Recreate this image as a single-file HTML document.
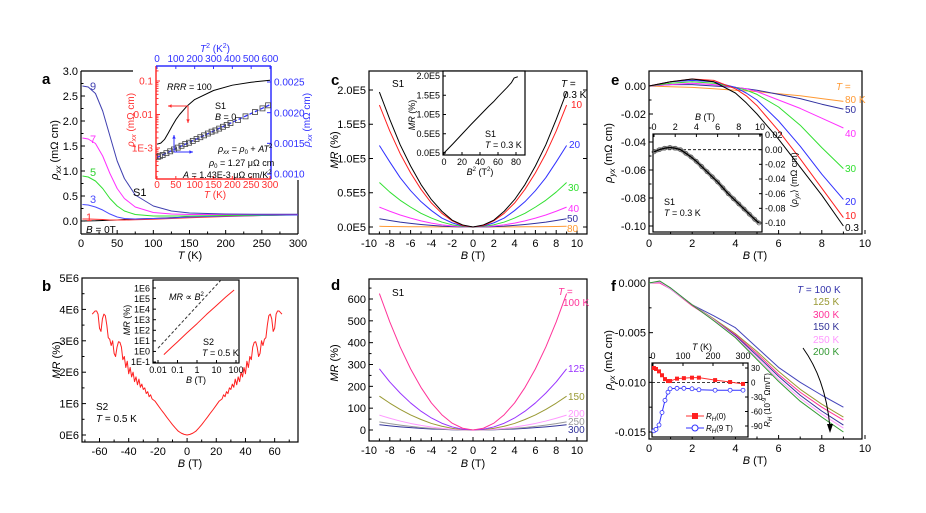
<!DOCTYPE html>
<html><head><meta charset="utf-8"><style>
html,body{margin:0;padding:0;background:#fff;}
svg{display:block;font-family:"Liberation Sans",Arial,sans-serif;}
text{font-family:"Liberation Sans",Arial,sans-serif;}
</style></head><body>
<svg id="fig" width="926" height="513" viewBox="0 0 926 513" xmlns="http://www.w3.org/2000/svg">
<rect x="0" y="0" width="926" height="513" fill="#fff"/>
<g id="layer"></g>
<g id="labels" font-size="11">
<text x="42" y="84" font-size="15" font-weight="bold">a</text>
<text x="42" y="291" font-size="15" font-weight="bold">b</text>
<text x="331" y="85" font-size="15" font-weight="bold">c</text>
<text x="331" y="290" font-size="15" font-weight="bold">d</text>
<text x="611" y="85" font-size="15" font-weight="bold">e</text>
<text x="611" y="291" font-size="15" font-weight="bold">f</text>
<text x="190" y="259" text-anchor="middle"><tspan font-style="italic">T</tspan> (K)</text>
<text transform="rotate(-90 58 150)" x="58" y="150" text-anchor="middle"><tspan font-style="italic">ρ</tspan><tspan font-style="italic" font-size="8" dy="3">xx</tspan><tspan dy="-3"> (mΩ cm)</tspan></text>
<text x="90" y="90" fill="#4040b0">9</text>
<text x="90" y="143" fill="#ff30ff">7</text>
<text x="90" y="176" fill="#30d030">5</text>
<text x="90" y="203" fill="#4a4aff">3</text>
<text x="86" y="221" fill="#ff3030">1</text>
<text x="86" y="233" font-size="10"><tspan font-style="italic">B</tspan> = 0T</text>
<text x="133" y="196">S1</text>
<text x="215" y="198" text-anchor="middle" fill="#ff3030" font-size="10"><tspan font-style="italic">T</tspan> (K)</text>
<text x="215" y="52" text-anchor="middle" fill="#3030ff" font-size="10"><tspan font-style="italic">T</tspan><tspan font-size="7" dy="-4">2</tspan><tspan dy="4"> (K</tspan><tspan font-size="7" dy="-4">2</tspan><tspan dy="4">)</tspan></text>
<text transform="rotate(-90 134 120)" x="134" y="120" text-anchor="middle" fill="#ff3030" font-size="10"><tspan font-style="italic">ρ</tspan><tspan font-style="italic" font-size="7" dy="2">xx</tspan><tspan dy="-2"> (mΩ cm)</tspan></text>
<text transform="rotate(-90 310 120)" x="310" y="120" text-anchor="middle" fill="#3030ff" font-size="10"><tspan font-style="italic">ρ</tspan><tspan font-style="italic" font-size="7" dy="2">xx</tspan><tspan dy="-2"> (mΩ cm)</tspan></text>
<text x="167" y="90" font-size="9"><tspan font-style="italic">RRR</tspan> = 100</text>
<text x="215" y="109" font-size="9">S1</text>
<text x="215" y="120" font-size="9"><tspan font-style="italic">B</tspan> = 0</text>
<text x="218" y="152" font-size="9"><tspan font-style="italic">ρ</tspan><tspan font-size="6" dy="2" font-style="italic">xx</tspan><tspan dy="-2"> = </tspan><tspan font-style="italic">ρ</tspan><tspan font-size="6" dy="2">0</tspan><tspan dy="-2"> + </tspan><tspan font-style="italic">AT</tspan><tspan font-size="6" dy="-4">2</tspan></text>
<text x="209" y="166" font-size="9"><tspan font-style="italic">ρ</tspan><tspan font-size="6" dy="2">0</tspan><tspan dy="-2"> = 1.27 μΩ cm</tspan></text>
<text x="183" y="178" font-size="9"><tspan font-style="italic">A</tspan> = 1.43E-3 μΩ cm/K<tspan font-size="6" dy="-4">2</tspan></text>
<text x="190" y="467" text-anchor="middle"><tspan font-style="italic">B</tspan> (T)</text>
<text transform="rotate(-90 60 360)" x="60" y="360" text-anchor="middle"><tspan font-style="italic">MR</tspan> (%)</text>
<text x="96" y="410" font-size="10">S2</text>
<text x="96" y="422" font-size="10"><tspan font-style="italic">T</tspan> = 0.5 K</text>
<text x="196" y="383" text-anchor="middle" font-size="9"><tspan font-style="italic">B</tspan> (T)</text>
<text transform="rotate(-90 130 320)" x="130" y="320" text-anchor="middle" font-size="9"><tspan font-style="italic">MR</tspan> (%)</text>
<text x="169" y="300" font-size="9"><tspan font-style="italic">MR</tspan> ∝ <tspan font-style="italic">B</tspan><tspan font-size="6" dy="-4">2</tspan></text>
<text x="203" y="345" font-size="9">S2</text>
<text x="202" y="356" font-size="9"><tspan font-style="italic">T</tspan> = 0.5 K</text>
<text x="473" y="259" text-anchor="middle"><tspan font-style="italic">B</tspan> (T)</text>
<text transform="rotate(-90 338 150)" x="338" y="150" text-anchor="middle"><tspan font-style="italic">MR</tspan> (%)</text>
<text x="392" y="87" font-size="10">S1</text>
<text x="561" y="87" font-size="10"><tspan font-style="italic">T</tspan> =</text>
<text x="563" y="98" font-size="10">0.3 K</text>
<text x="571" y="108" font-size="10" fill="#ff2020">10</text>
<text x="569" y="148" font-size="10" fill="#3030ff">20</text>
<text x="568" y="191" font-size="10" fill="#30e030">30</text>
<text x="568" y="212" font-size="10" fill="#ff30ff">40</text>
<text x="567" y="222" font-size="10" fill="#3030a0">50</text>
<text x="567" y="232" font-size="10" fill="#ff9933">80</text>
<text x="480" y="175" text-anchor="middle" font-size="9"><tspan font-style="italic">B</tspan><tspan font-size="6" dy="-4">2</tspan><tspan dy="4"> (T</tspan><tspan font-size="6" dy="-4">2</tspan><tspan dy="4">)</tspan></text>
<text transform="rotate(-90 415 115)" x="415" y="115" text-anchor="middle" font-size="9"><tspan font-style="italic">MR</tspan> (%)</text>
<text x="485" y="137" font-size="9">S1</text>
<text x="485" y="148" font-size="9"><tspan font-style="italic">T</tspan> = 0.3 K</text>
<text x="473" y="467" text-anchor="middle"><tspan font-style="italic">B</tspan> (T)</text>
<text transform="rotate(-90 338 363)" x="338" y="363" text-anchor="middle"><tspan font-style="italic">MR</tspan> (%)</text>
<text x="392" y="296" font-size="10">S1</text>
<text x="558" y="295" font-size="10" fill="#ff3399"><tspan font-style="italic">T</tspan> =</text>
<text x="563" y="306" font-size="10" fill="#ff3399">100 K</text>
<text x="568" y="372" font-size="10" fill="#9933ff">125</text>
<text x="568" y="400" font-size="10" fill="#999933">150</text>
<text x="568" y="417" font-size="10" fill="#ff99ff">200</text>
<text x="568" y="425" font-size="10" fill="#999999">250</text>
<text x="568" y="433" font-size="10" fill="#333399">300</text>
<text x="755" y="259" text-anchor="middle"><tspan font-style="italic">B</tspan> (T)</text>
<text transform="rotate(-90 612 153)" x="612" y="153" text-anchor="middle"><tspan font-style="italic">ρ</tspan><tspan font-style="italic" font-size="8" dy="3">yx</tspan><tspan dy="-3"> (mΩ cm)</tspan></text>
<text x="836" y="90" font-size="10" fill="#ff9933"><tspan font-style="italic">T</tspan> =</text>
<text x="845" y="103" font-size="10" fill="#ff9933">80 K</text>
<text x="845" y="113" font-size="10" fill="#3030a0">50</text>
<text x="845" y="137" font-size="10" fill="#ff30ff">40</text>
<text x="845" y="172" font-size="10" fill="#30e030">30</text>
<text x="845" y="205" font-size="10" fill="#3030ff">20</text>
<text x="845" y="219" font-size="10" fill="#ff2020">10</text>
<text x="845" y="231" font-size="10">0.3</text>
<text x="705" y="120" text-anchor="middle" font-size="9"><tspan font-style="italic">B</tspan> (T)</text>
<text transform="rotate(-90 797 180)" x="797" y="180" text-anchor="middle" font-size="9">⟨<tspan font-style="italic">ρ</tspan><tspan font-style="italic" font-size="6" dy="2">yx</tspan><tspan dy="-2">⟩ (mΩ cm)</tspan></text>
<text x="664" y="205" font-size="9">S1</text>
<text x="664" y="216" font-size="9"><tspan font-style="italic">T</tspan> = 0.3 K</text>
<text x="755" y="464" text-anchor="middle"><tspan font-style="italic">B</tspan> (T)</text>
<text transform="rotate(-90 612 360)" x="612" y="360" text-anchor="middle"><tspan font-style="italic">ρ</tspan><tspan font-style="italic" font-size="8" dy="3">yx</tspan><tspan dy="-3"> (mΩ cm)</tspan></text>
<text x="797" y="293" font-size="10" fill="#3333aa"><tspan font-style="italic">T</tspan> = 100 K</text>
<text x="813" y="305" font-size="10" fill="#999933">125 K</text>
<text x="813" y="318" font-size="10" fill="#ff3399">300 K</text>
<text x="813" y="330" font-size="10" fill="#333399">150 K</text>
<text x="813" y="343" font-size="10" fill="#ff99ff">250 K</text>
<text x="813" y="355" font-size="10" fill="#339933">200 K</text>
<text x="702" y="350" text-anchor="middle" font-size="9"><tspan font-style="italic">T</tspan> (K)</text>
<text transform="rotate(-90 770 400)" x="770" y="400" text-anchor="middle" font-size="8"><tspan font-style="italic">R</tspan><tspan font-style="italic" font-size="6" dy="2">H</tspan><tspan dy="-2"> (10</tspan><tspan font-size="6" dy="-4">-9</tspan><tspan dy="4"> Ωm/T)</tspan></text>
<text x="706" y="419" font-size="8"><tspan font-style="italic">R</tspan><tspan font-style="italic" font-size="6" dy="2">H</tspan><tspan dy="-2">(0)</tspan></text>
<text x="706" y="431" font-size="8"><tspan font-style="italic">R</tspan><tspan font-style="italic" font-size="6" dy="2">H</tspan><tspan dy="-2">(9 T)</tspan></text>
</g>
</svg>
<script>
const aT = [2,10,20,30,40,50,60,75,100,125,150,200,250,300];
const aB9 = [2.70,2.68,2.55,2.2,1.7,1.2,0.85,0.52,0.3,0.2,0.16,0.14,0.135,0.135];
const aB7 = [1.66,1.64,1.55,1.3,0.95,0.65,0.45,0.28,0.17,0.14,0.13,0.13,0.13,0.13];
const aB5 = [0.9,0.88,0.8,0.65,0.45,0.3,0.2,0.13,0.1,0.1,0.1,0.11,0.12,0.13];
const aB3 = [0.33,0.32,0.28,0.22,0.14,0.08,0.05,0.04,0.05,0.06,0.08,0.1,0.11,0.12];
const aB1 = [0.04,0.04,0.035,0.03,0.02,0.02,0.02,0.025,0.035,0.05,0.065,0.09,0.11,0.125];
const aB0 = [0.001,0.002,0.004,0.01,0.015,0.02,0.03,0.04,0.05,0.065,0.08,0.1,0.115,0.125];
const aTicksX = [0,50,100,150,200,250,300];
const aTicksY = [0,0.5,1,1.5,2,2.5,3];
const aTickLabelsY = ['0.0','0.5','1.0','1.5','2.0','2.5','3.0'];
const aiT = [0,10,20,30,40,50,60,80,100,150,200,250,300];
const aiRho = [1.3e-3,1.4e-3,1.8e-3,2.8e-3,4.5e-3,7e-3,1e-2,1.8e-2,2.8e-2,5.2e-2,7.5e-2,9.2e-2,1.05e-1];
const aiT2 = [5,15,30,50,70,90,110,130,150,170,190,210,230,250,270,290,310,330,350,370,390,430,470,520,560,590];
const aiRhoSq = [0.00128,0.00129,0.00131,0.00134,0.00137,0.0014,0.00143,0.00146,0.00149,0.00151,0.00154,0.00157,0.0016,0.00163,0.00166,0.00169,0.00171,0.00174,0.00177,0.0018,0.00183,0.00188,0.00194,0.00201,0.00207,0.00212];
const aiFitT2 = [0,600];
const aiFitRho = [0.00127,0.00213];
const aiTicksT = [0,50,100,150,200,250,300];
const aiTicksT2 = [0,100,200,300,400,500,600];
const aiTicksLog = [0.1,0.01,0.001];
const aiTickLabelsLog = ['0.1','0.01','1E-3'];
const aiTicksR = [0.001,0.0015,0.002,0.0025];
const aiTickLabelsR = ['0.0010','0.0015','0.0020','0.0025'];
const bB = [0,2,4,6,8,10,12,14,16,18,20,22,24,25,26,27,28,29,30,31,32,33,34,35,36,37,38,39,40,41,42,43,44,45,46,47,48,49,50,51,52,53,54,55,56,57,58,59,60,61,62,63,64,65];
const bMR = [0,0.02,0.06,0.12,0.22,0.33,0.45,0.57,0.7,0.82,0.95,1.08,1.15,1.28,1.22,1.38,1.32,1.5,1.45,1.62,1.52,1.78,1.6,1.85,1.7,2.0,1.85,2.15,1.95,2.35,2.15,2.5,2.4,2.8,2.95,2.97,2.8,2.5,2.6,3.0,2.85,3.05,3.1,3.5,3.8,3.85,3.7,3.3,3.4,3.85,3.95,3.95,3.9,3.85];
const bTicksX = [-60,-40,-20,0,20,40,60];
const bTicksY = [0,1,2,3,4,5];
const bTickLabelsY = ['0E6','1E6','2E6','3E6','4E6','5E6'];
const biB = [0.02,0.05,0.1,0.3,1,3,10,30,80];
const biMR = [0.5,2.5,8,55,420,3000,22000,140000,650000];
const biDashB = [0.01,60];
const biDashMR = [2,7e7];
const biTicksX = [0.01,0.1,1,10,100];
const biTickLabelsX = ['0.01','0.1','1','10','100'];
const biTicksY = [0.1,1,10,100,1e3,1e4,1e5,1e6];
const biTickLabelsY = ['1E-1','1E0','1E1','1E2','1E3','1E4','1E5','1E6'];
const cB = [0,1,2,3,4,5,6,7,8,9];
const cT03 = [0,0.03,0.10,0.23,0.40,0.62,0.89,1.2,1.57,1.97];
const cT10 = [0,0.02,0.09,0.2,0.35,0.55,0.79,1.07,1.4,1.78];
const cT20 = [0,0.015,0.06,0.13,0.24,0.37,0.53,0.72,0.95,1.19];
const cT30 = [0,0.008,0.032,0.072,0.13,0.2,0.29,0.39,0.51,0.65];
const cT40 = [0,0.004,0.014,0.032,0.057,0.09,0.13,0.175,0.23,0.29];
const cT50 = [0,0.0015,0.006,0.013,0.024,0.037,0.053,0.072,0.095,0.12];
const cT80 = [0,0,0.001,0.001,0.002,0.003,0.004,0.006,0.008,0.01];
const cTicksX = [-10,-8,-6,-4,-2,0,2,4,6,8,10];
const cTicksY = [0,0.5,1,1.5,2];
const cTickLabelsY = ['0.0E5','0.5E5','1.0E5','1.5E5','2.0E5'];
const ciB2 = [0,10,20,30,40,50,55,60,65,70,75,78,82];
const ciMR = [0,0.24,0.49,0.74,0.98,1.22,1.33,1.46,1.58,1.7,1.83,1.95,1.98];
const ciTicksX = [0,20,40,60,80];
const ciTicksY = [0,0.5,1,1.5,2];
const ciTickLabelsY = ['0.0E5','0.5E5','1.0E5','1.5E5','2.0E5'];
const dB = [0,1,2,3,4,5,6,7,8,9];
const dT100 = [0,8,31,70,124,195,280,380,495,625];
const dT125 = [0,3.5,14,31,55,86,124,169,220,280];
const dT150 = [0,2,7.7,17,30,48,69,94,123,155];
const dT200 = [0,0.9,3.4,7.6,13.5,21,30,41,54,68];
const dT250 = [0,0.5,1.8,4.1,7.3,11.4,16.4,22.3,29,37];
const dT300 = [0,0.3,1.2,2.7,4.7,7.4,10.7,14.5,19,24];
const dTicksY = [0,100,200,300,400,500,600];
const eB = [0,1,2,3,4,4.5,5,6,7,8,9];
const eT03 = [0,0.003,0.005,0.003,-0.005,-0.012,-0.02,-0.038,-0.058,-0.078,-0.1];
const eT10 = [0,0.003,0.005,0.004,-0.002,-0.007,-0.014,-0.032,-0.052,-0.073,-0.094];
const eT20 = [0,0.003,0.004,0.003,-0.001,-0.005,-0.01,-0.025,-0.043,-0.063,-0.081];
const eT30 = [0,0.002,0.003,0.002,-0.001,-0.003,-0.006,-0.015,-0.028,-0.044,-0.059];
const eT40 = [0,0.001,0.002,0.001,-0.001,-0.002,-0.004,-0.01,-0.016,-0.023,-0.03];
const eT50 = [0,0.001,0.001,0,-0.001,-0.002,-0.003,-0.006,-0.009,-0.013,-0.0165];
const eT80 = [0,-0.0005,-0.001,-0.002,-0.003,-0.0035,-0.004,-0.0055,-0.007,-0.009,-0.011];
const eTicksX = [0,2,4,6,8,10];
const eTicksY = [0,-0.02,-0.04,-0.06,-0.08,-0.1];
const eTickLabelsY = ['0.00','-0.02','-0.04','-0.06','-0.08','-0.10'];
const eiB = [0,0.5,1,1.5,2,2.5,3,3.5,4,4.5,5,5.5,6,6.5,7,7.5,8,8.5,9,9.5,9.9];
const eiRho = [-0.003,0.0,0.002,0.003,0.002,0.0,-0.005,-0.01,-0.016,-0.023,-0.03,-0.037,-0.044,-0.052,-0.06,-0.067,-0.074,-0.081,-0.088,-0.095,-0.1];
const eiTicksX = [0,2,4,6,8,10];
const eiTicksY = [0.02,0,-0.02,-0.04,-0.06,-0.08,-0.1];
const eiTickLabelsY = ['0.02','0.00','-0.02','-0.04','-0.06','-0.08','-0.10'];
const fB = [0,0.5,1,2,3,4,5,6,7,8,9];
const fT100 = [0,0.0001,-0.0005,-0.0022,-0.0033,-0.0045,-0.0065,-0.0085,-0.0100,-0.0113,-0.0125];
const fT125 = [0,0.0001,-0.0006,-0.0022,-0.0036,-0.0051,-0.0069,-0.0089,-0.0107,-0.0122,-0.0135];
const fT300 = [0,0,-0.0006,-0.0023,-0.0037,-0.0052,-0.0071,-0.0092,-0.011,-0.0125,-0.0138];
const fT150 = [0,0.0001,-0.0006,-0.0022,-0.0037,-0.0053,-0.0073,-0.0094,-0.0113,-0.0129,-0.0143];
const fT250 = [0,0.0001,-0.0006,-0.0022,-0.0037,-0.0054,-0.0075,-0.0097,-0.0116,-0.0132,-0.0146];
const fT200 = [0,0.0002,-0.0005,-0.0022,-0.0038,-0.0055,-0.0077,-0.0099,-0.0119,-0.0135,-0.015];
const fTicksX = [0,2,4,6,8,10];
const fTicksY = [0,-0.005,-0.01,-0.015];
const fTickLabelsY = ['0.000','-0.005','-0.010','-0.015'];
const fiT = [3,10,20,30,40,50,57,80,103,130,153,207,257,300];
const fiRH0 = [30,28,23,15,7,3,3,8,9,10,10,5,1,-3];
const fiRH9 = [-100,-97,-88,-62,-37,-20,-13,-12,-12,-13,-15,-16,-16,-16];
const fiTicksX = [0,100,200,300];
const fiTicksY = [30,0,-30,-60,-90];

const NS = 'http://www.w3.org/2000/svg';
const layer = document.getElementById('layer');
function mk(tag, attrs, name, parent){
  const el = document.createElementNS(NS, tag);
  for (const k in attrs) el.setAttribute(k, attrs[k]);
  
  
  (parent || layer).appendChild(el);
  return el;
}
function lin(d0,d1,r0,r1){ return v => r0 + (v-d0)*(r1-r0)/(d1-d0); }
function ln(x1,y1,x2,y2,c,w,name,dash){
  const a = {x1,y1,x2,y2,stroke:c||'#000','stroke-width':w||1};
  if (dash) a['stroke-dasharray'] = dash;
  return mk('line', a, name);
}
function tx(x,y,s,name,o){
  o = o || {};
  const t = mk('text', {x,y,'font-size':o.fs||11,fill:o.c||'#000','text-anchor':o.a||'middle'}, name);
  t.textContent = s;
  return t;
}
function curve(xs, ys, sx, sy, color, name, w, dash, clip){
  const d = xs.map((x,i)=>(i?'L':'M')+sx(x).toFixed(2)+','+sy(ys[i]).toFixed(2)).join(' ');
  const a = {d, fill:'none', stroke:color, 'stroke-width':w||1, 'stroke-linejoin':'round'};
  if (dash) a['stroke-dasharray'] = dash;
  if (clip) a['clip-path'] = 'url(#'+clip+')';
  return mk('path', a, name);
}
function mirror(xs, ys){
  const X=[], Y=[];
  for (let i=xs.length-1;i>0;i--){ X.push(-xs[i]); Y.push(ys[i]); }
  for (let i=0;i<xs.length;i++){ X.push(xs[i]); Y.push(ys[i]); }
  return [X,Y];
}
function xTicks(sc, vals, labels, y0, dir, name, o){
  o = o || {};
  vals.forEach((v,i)=>{
    const x = sc(v);
    ln(x, y0, x, y0 + dir*(o.len||4), o.c||'#000', 1, name+'-tick');
    tx(x, y0 + (dir<0 ? (o.off||13) : -(o.off||4)), labels ? labels[i] : String(v), name+'-label', {fs:o.fs||11, c:o.c||'#000'});
  });
}
function yTicks(sc, vals, labels, x0, dir, name, o){
  o = o || {};
  vals.forEach((v,i)=>{
    const y = sc(v);
    ln(x0, y, x0 + dir*(o.len||4), y, o.c||'#000', 1, name+'-tick');
    tx(x0 - dir*3, y + (o.fs||11)*0.36, labels ? labels[i] : String(v), name+'-label', {fs:o.fs||11, c:o.c||'#000', a: dir>0 ? 'end' : 'start'});
  });
}
function minorX(sc, vals, y0, dir, name, c){ vals.forEach(v=>{ const x=sc(v); ln(x,y0,x,y0+dir*2.5,c||'#000',1,name); }); }
function minorY(sc, vals, x0, dir, name, c){ vals.forEach(v=>{ const y=sc(v); ln(x0,y,x0+dir*2.5,y,c||'#000',1,name); }); }
function box(x0,y0,x1,y1,name,fill){
  return mk('rect',{x:x0,y:y0,width:x1-x0,height:y1-y0,fill:fill||'none',stroke:'#000','stroke-width':1.2},name);
}
function clipRect(id,x0,y0,x1,y1){
  let defs = document.getElementById('defs');
  if (!defs){ defs = mk('defs',{id:'defs'},'defs', document.getElementById('fig')); }
  const cp = mk('clipPath',{id},'clip-'+id,defs);
  mk('rect',{x:x0,y:y0,width:x1-x0,height:y1-y0},'clip-rect',cp);
}
function arrow(x1,y1,x2,y2,c,name){
  ln(x1,y1,x2,y2,c,1,name);
  const ang=Math.atan2(y2-y1,x2-x1), s=4;
  const p1=[x2-s*Math.cos(ang-0.45), y2-s*Math.sin(ang-0.45)], p2=[x2-s*Math.cos(ang+0.45), y2-s*Math.sin(ang+0.45)];
  mk('polygon',{points:`${x2},${y2} ${p1} ${p2}`,fill:c},name+'-head');
}

{
  const sx=lin(0,300,81,298), sy=lin(0,3,221,71);
  clipRect('ca',81,71,298,234);
  ln(81,71,81,234,'#000',1.2,'a-axis-left');
  ln(81,234,298,234,'#000',1.2,'a-axis-bottom');
  ln(298,180,298,234,'#000',1.2,'a-axis-right');
  ln(81,71,133,71,'#000',1.2,'a-axis-top');
  xTicks(sx,aTicksX,null,234,-1,'a-x');
  minorX(sx,[25,75,125,175,225,275],234,-1,'a-x-minor');
  yTicks(sy,aTicksY,aTickLabelsY,81,1,'a-y');
  minorY(sy,[0.25,0.75,1.25,1.75,2.25,2.75],81,1,'a-y-minor');
  curve(aT,aB0,sx,sy,'#000','a-curve-b0',1,null,'ca');
  curve(aT,aB1,sx,sy,'#ff3030','a-curve-b1',1,null,'ca');
  curve(aT,aB3,sx,sy,'#4a4aff','a-curve-b3',1,null,'ca');
  curve(aT,aB5,sx,sy,'#30e030','a-curve-b5',1,null,'ca');
  curve(aT,aB7,sx,sy,'#ff30ff','a-curve-b7',1,null,'ca');
  curve(aT,aB9,sx,sy,'#4040b0','a-curve-b9',1,null,'ca');
  mk('rect',{x:156,y:66,width:115,height:113,fill:'#fff'},'a-inset-bg');
  const ix=lin(0,300,157,270), ix2=lin(0,600,157,270), iyl=v=>148-(Math.log10(v)+3)*33.5, iyr=lin(0.001,0.0025,174,82);
  clipRect('cai',156,66,271,179);
  ln(156,66,156,179,'#ff3030',1.5,'a-inset-axis-left');
  ln(156,179,271,179,'#ff3030',1.5,'a-inset-axis-bottom');
  ln(156,66,271,66,'#3030ff',1.5,'a-inset-axis-top');
  ln(271,66,271,179,'#3030ff',1.5,'a-inset-axis-right');
  xTicks(ix,aiTicksT,null,179,-1,'a-inset-x',{fs:10,c:'#ff3030',off:9,len:3});
  xTicks(ix2,aiTicksT2,null,66,1,'a-inset-top',{fs:10,c:'#3030ff',off:4,len:3});
  yTicks(iyl,aiTicksLog,aiTickLabelsLog,156,1,'a-inset-left',{fs:10,c:'#ff3030',len:4});
  const logMinor=[0.0002,0.0003,0.0004,0.0005,0.0006,0.0007,0.0008,0.0009,0.002,0.003,0.004,0.005,0.006,0.007,0.008,0.009,0.02,0.03,0.04,0.05,0.06,0.07,0.08,0.09,0.2];
  minorY(iyl,logMinor.filter(v=>iyl(v)>66&&iyl(v)<179),156,1,'a-inset-left-minor','#ff3030');
  yTicks(iyr,aiTicksR,aiTickLabelsR,271,-1,'a-inset-right',{fs:10,c:'#3030ff',len:4});
  curve(aiT,aiRho,ix,iyl,'#000','a-inset-rho-curve',1,null,'cai');
  curve(aiFitT2,aiFitRho,ix2,iyr,'#3030ff','a-inset-fit-line',1.3,'4,2','cai');
  aiT2.forEach((t,i)=>{ mk('rect',{x:ix2(t)-2.5,y:iyr(aiRhoSq[i])-2.5,width:5,height:5,fill:'none',stroke:'#444','stroke-width':0.8,'clip-path':'url(#cai)'},'a-inset-square-point'); });
  arrow(188,106,168,106,'#ff3030','a-inset-red-arrow-left');
  arrow(188,106,188,123,'#ff3030','a-inset-red-arrow-down');
  arrow(174,152,174,135,'#3030ff','a-inset-blue-arrow-up');
  arrow(174,152,193,152,'#3030ff','a-inset-blue-arrow-right');
}
{
  const sx=lin(-72,76,82,298), sy=lin(0,5,435,278);
  box(82,278,298,442,'b-frame');
  xTicks(sx,bTicksX,null,442,-1,'b-x');
  minorX(sx,[-70,-50,-30,-10,10,30,50,70],442,-1,'b-x-minor');
  yTicks(sy,bTicksY,bTickLabelsY,82,1,'b-y');
  minorY(sy,[0.5,1.5,2.5,3.5,4.5],82,1,'b-y-minor');
  const [X,Y]=mirror(bB,bMR);
  curve(X,Y,sx,sy,'#ff2020','b-mr-curve',1);
  mk('rect',{x:153,y:280,width:86,height:83,fill:'#fff'},'b-inset-bg');
  clipRect('cbi',153,280,239,363);
  const ix=v=>158+(Math.log10(v)+2)*19.5, iy=v=>362-(Math.log10(v)+1)*10.57;
  box(153,280,239,363,'b-inset-frame');
  xTicks(ix,biTicksX,biTickLabelsX,363,-1,'b-inset-x',{fs:9,off:10,len:3});
  yTicks(iy,biTicksY,biTickLabelsY,153,1,'b-inset-y',{fs:9,len:3});
  curve(biDashB,biDashMR,ix,iy,'#333','b-inset-b2-guide',1,'3,2','cbi');
  curve(biB,biMR,ix,iy,'#ff2020','b-inset-mr-curve',1,null,'cbi');
}
{
  const sx=lin(-10,10,369,577), sy=lin(0,2,227,90);
  clipRect('cc',369,71,587,234);
  box(369,71,587,234,'c-frame');
  xTicks(sx,cTicksX,null,234,-1,'c-x');
  minorX(sx,[-9,-7,-5,-3,-1,1,3,5,7,9],234,-1,'c-x-minor');
  yTicks(sy,cTicksY,cTickLabelsY,369,1,'c-y');
  yTicks(sy,cTicksY,cTicksY.map(()=>''),587,-1,'c-y-right');
  const series=[[cT80,'#ff9933','80'],[cT50,'#3030a0','50'],[cT40,'#ff30ff','40'],[cT30,'#30e030','30'],[cT20,'#3030ff','20'],[cT10,'#ff2020','10'],[cT03,'#000','0.3']];
  series.forEach(s=>{ const [X,Y]=mirror(cB,s[0]); curve(X,Y,sx,sy,s[1],'c-curve-'+s[2],1,null,'cc'); });
  mk('rect',{x:443,y:71,width:82,height:84,fill:'#fff'},'c-inset-bg');
  const ix=lin(0,80,444,516), iy=lin(0,2,153,76);
  box(443,71,525,155,'c-inset-frame');
  xTicks(ix,ciTicksX,null,155,-1,'c-inset-x',{fs:9,off:10,len:3});
  yTicks(iy,ciTicksY,ciTickLabelsY,443,1,'c-inset-y',{fs:9,len:3});
  curve(ciB2,ciMR,ix,iy,'#000','c-inset-curve',1);
}
{
  const sx=lin(-10,10,369,577), sy=lin(0,600,430,299);
  clipRect('cd',369,279,587,441);
  box(369,279,587,441,'d-frame');
  xTicks(sx,cTicksX,null,441,-1,'d-x');
  minorX(sx,[-9,-7,-5,-3,-1,1,3,5,7,9],441,-1,'d-x-minor');
  yTicks(sy,dTicksY,null,369,1,'d-y');
  minorY(sy,[50,150,250,350,450,550,650],369,1,'d-y-minor');
  const series=[[dT300,'#333399','300'],[dT250,'#999999','250'],[dT200,'#ff99ff','200'],[dT150,'#999933','150'],[dT125,'#9933ff','125'],[dT100,'#ff3399','100']];
  series.forEach(s=>{ const [X,Y]=mirror(dB,s[0]); curve(X,Y,sx,sy,s[1],'d-curve-'+s[2],1,null,'cd'); });
}
{
  const sx=lin(0,10,649,865), sy=lin(-0.1,0,226,86);
  clipRect('ce',649,71,862,234);
  box(649,71,862,234,'e-frame');
  xTicks(sx,eTicksX,null,234,-1,'e-x');
  minorX(sx,[1,3,5,7,9],234,-1,'e-x-minor');
  yTicks(sy,eTicksY,eTickLabelsY,649,1,'e-y');
  minorY(sy,[-0.01,-0.03,-0.05,-0.07,-0.09],649,1,'e-y-minor');
  const series=[[eT80,'#ff9933','80'],[eT50,'#3030a0','50'],[eT40,'#ff30ff','40'],[eT30,'#30e030','30'],[eT20,'#3030ff','20'],[eT10,'#ff2020','10'],[eT03,'#000','0.3']];
  series.forEach(s=>curve(eB,s[0],sx,sy,s[1],'e-curve-'+s[2],1,null,'ce'));
  mk('rect',{x:653,y:134,width:109,height:98,fill:'#fff'},'e-inset-bg');
  const ix=lin(0,10,654,760), iy=lin(-0.1,0.02,223,135);
  box(653,134,762,232,'e-inset-frame');
  xTicks(ix,eiTicksX,null,134,1,'e-inset-x',{fs:9,off:4,len:3});
  yTicks(iy,eiTicksY,eiTickLabelsY,762,-1,'e-inset-y',{fs:9,len:3});
  ln(653,iy(0),762,iy(0),'#000',0.8,'e-inset-zero-line','3,2');
  curve(eiB,eiRho,ix,iy,'#999','e-inset-circle-band',4);
  eiB.forEach((b,i)=>mk('circle',{cx:ix(b),cy:iy(eiRho[i]),r:2,fill:'none',stroke:'#555','stroke-width':0.7},'e-inset-data-circle'));
  curve(eiB,eiRho,ix,iy,'#000','e-inset-fit-curve',1.3);
}
{
  const sx=lin(0,10,649,865), sy=lin(-0.015,0,432,283);
  clipRect('cf',649,278,862,439);
  box(649,278,862,439,'f-frame');
  xTicks(sx,fTicksX,null,439,-1,'f-x');
  minorX(sx,[1,3,5,7,9],439,-1,'f-x-minor');
  yTicks(sy,fTicksY,fTickLabelsY,649,1,'f-y');
  minorY(sy,[-0.0025,-0.0075,-0.0125],649,1,'f-y-minor');
  const series=[[fT100,'#4444bb','100'],[fT125,'#999933','125'],[fT300,'#ff3399','300'],[fT150,'#333399','150'],[fT250,'#ff99ff','250'],[fT200,'#339933','200']];
  series.forEach(s=>curve(fB,s[0],sx,sy,s[1],'f-curve-'+s[2],1,null,'cf'));
  mk('path',{d:'M803,348 Q826,380 830,428',fill:'none',stroke:'#000','stroke-width':1},'f-trend-arrow');
  mk('polygon',{points:'830,433 827,424 833,424',fill:'#000'},'f-trend-arrow-head');
  mk('rect',{x:652,y:363,width:96,height:74,fill:'#fff'},'f-inset-bg');
  const ix=lin(0,300,653,743), iy=lin(-90,30,426,368);
  box(652,363,748,437,'f-inset-frame');
  xTicks(ix,fiTicksX,null,363,1,'f-inset-x',{fs:9,off:4,len:3});
  yTicks(iy,fiTicksY,null,748,-1,'f-inset-y',{fs:8,len:3});
  ln(652,iy(0),748,iy(0),'#000',0.8,'f-inset-zero-line','3,2');
  curve(fiT,fiRH0,ix,iy,'#ff3030','f-inset-rh0-line',1);
  fiT.forEach((t,i)=>mk('rect',{x:ix(t)-2,y:iy(fiRH0[i])-2,width:4,height:4,fill:'#ff2020'},'f-inset-rh0-point'));
  curve(fiT,fiRH9,ix,iy,'#3030ff','f-inset-rh9-line',1);
  fiT.forEach((t,i)=>mk('circle',{cx:ix(t),cy:iy(fiRH9[i]),r:2,fill:'#fff',stroke:'#3030ff','stroke-width':0.8},'f-inset-rh9-point'));
  ln(686,416,704,416,'#ff3030',1,'f-inset-legend-rh0-line');
  mk('rect',{x:692,y:413,width:6,height:6,fill:'#ff2020'},'f-inset-legend-rh0-marker');
  ln(686,428,704,428,'#3030ff',1,'f-inset-legend-rh9-line');
  mk('circle',{cx:695,cy:428,r:3,fill:'#fff',stroke:'#3030ff'},'f-inset-legend-rh9-marker');
}
</script>
</body></html>
